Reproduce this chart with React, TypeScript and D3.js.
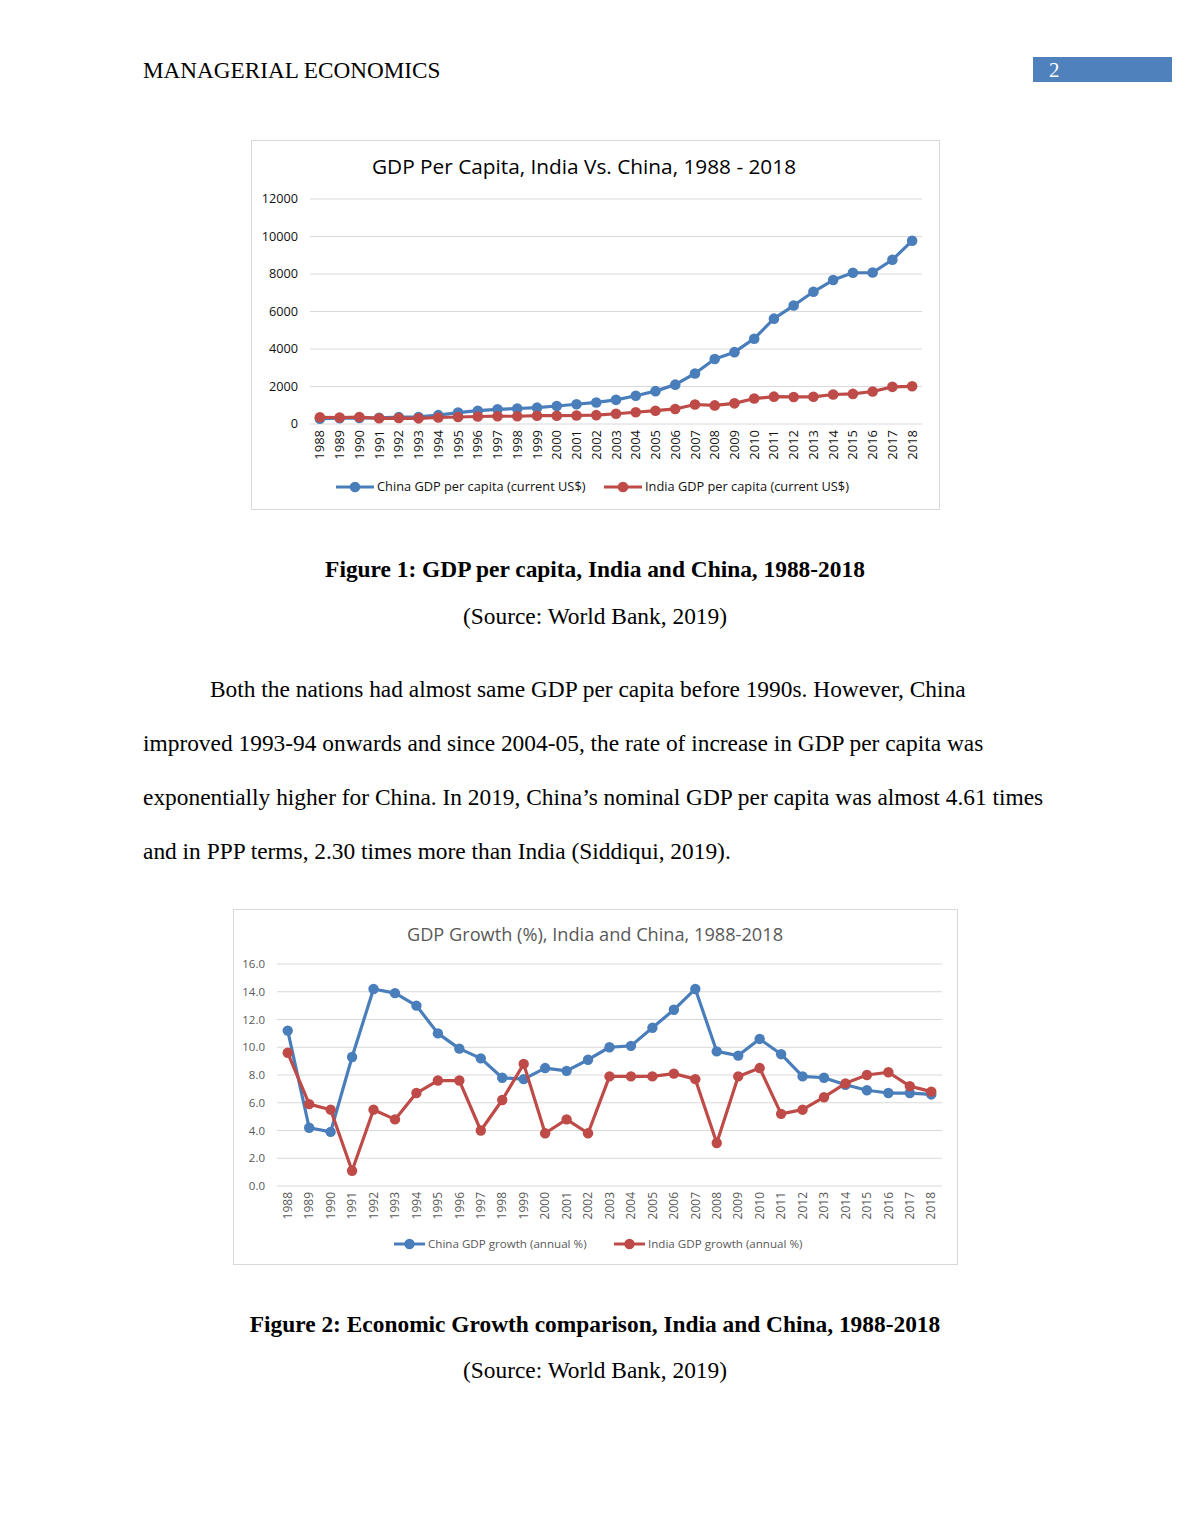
import React from 'react'
import * as d3 from 'd3'

const years = d3.range(1988, 2019).map(String)

const chinaGdpPc = [283, 310, 317, 333, 366, 377, 473, 610, 709, 781, 828, 873, 959, 1053, 1149, 1289, 1509, 1753, 2099, 2694, 3468, 3832, 4550, 5618, 6317, 7051, 7679, 8067, 8078, 8759, 9771]
const indiaGdpPc = [358, 348, 368, 303, 317, 301, 346, 374, 400, 415, 413, 442, 443, 452, 471, 547, 628, 710, 802, 1040, 993, 1101, 1358, 1458, 1444, 1450, 1574, 1606, 1733, 1981, 2010]

const chinaGrowth = [11.2, 4.2, 3.9, 9.3, 14.2, 13.9, 13.0, 11.0, 9.9, 9.2, 7.8, 7.7, 8.5, 8.3, 9.1, 10.0, 10.1, 11.4, 12.7, 14.2, 9.7, 9.4, 10.6, 9.5, 7.9, 7.8, 7.3, 6.9, 6.7, 6.7, 6.6]
const indiaGrowth = [9.6, 5.9, 5.5, 1.1, 5.5, 4.8, 6.7, 7.6, 7.6, 4.0, 6.2, 8.8, 3.8, 4.8, 3.8, 7.9, 7.9, 7.9, 8.1, 7.7, 3.1, 7.9, 8.5, 5.2, 5.5, 6.4, 7.4, 8.0, 8.2, 7.2, 6.8]

const pcTicks = [0, 2000, 4000, 6000, 8000, 10000, 12000]
const growthTicks = [0, 2, 4, 6, 8, 10, 12, 14, 16]

const BLUE = '#4a7ebb'
const RED = '#be4b48'
const SANS = '"Open Sans", "Noto Sans", sans-serif'
const SERIF = '"Liberation Serif", "Times New Roman", serif'

interface ChartProps {
  frame: [number, number, number, number]
  title: string
  titleX: number
  titleY: number
  titleSize: number
  titleColor: string
  plot: { left: number; right: number; top: number; bottom: number }
  yMax: number
  ticks: number[]
  fmt: (v: number) => string
  tickColor: string
  tickSize: number
  xTickSize: number
  series: { name: string; values: number[]; color: string; legendX: number }[]
  legendY: number
  legendSize: number
  legendLen: number
  r: number
}

const Chart: React.FC<ChartProps> = (p) => {
  const x = d3.scaleBand<string>().domain(years).range([p.plot.left, p.plot.right])
  const y = d3.scaleLinear().domain([0, p.yMax]).range([p.plot.bottom, p.plot.top])
  const cx = (yr: string) => (x(yr) || 0) + x.bandwidth() / 2
  const line = d3
    .line<number>()
    .x((_, i) => cx(years[i]))
    .y((d) => y(d))
  const [fx, fy, fw, fh] = p.frame
  return (
    <g>
      <rect x={fx + 0.5} y={fy + 0.5} width={fw} height={fh} fill="#fff" stroke="#d9d9d9" />
      <text x={p.titleX} y={p.titleY} textAnchor="middle" fontFamily={SANS} fontSize={p.titleSize} fill={p.titleColor}>
        {p.title}
      </text>
      {p.ticks.map((t) => (
        <g key={t}>
          <line x1={p.plot.left} x2={p.plot.right} y1={y(t)} y2={y(t)} stroke="#d9d9d9" strokeWidth={1} />
          <text x={p.plot.left - 12} y={y(t)} dy="0.35em" textAnchor="end" fontFamily={SANS} fontSize={p.tickSize} fill={p.tickColor}>
            {p.fmt(t)}
          </text>
        </g>
      ))}
      {years.map((yr) => (
        <text
          key={yr}
          transform={`translate(${cx(yr)},${p.plot.bottom + 6}) rotate(-90)`}
          dy="0.35em"
          textAnchor="end"
          fontFamily={SANS}
          fontSize={p.xTickSize}
          fill={p.tickColor}
        >
          {yr}
        </text>
      ))}
      {p.series.map((s) => (
        <g key={s.name}>
          <path d={line(s.values) || ''} fill="none" stroke={s.color} strokeWidth={3.2} strokeLinejoin="round" />
          {s.values.map((v, i) => (
            <circle key={i} cx={cx(years[i])} cy={y(v)} r={p.r} fill={s.color} />
          ))}
        </g>
      ))}
      {p.series.map((s) => (
        <g key={'lg' + s.name}>
          <line x1={s.legendX} x2={s.legendX + p.legendLen} y1={p.legendY} y2={p.legendY} stroke={s.color} strokeWidth={3} />
          <circle cx={s.legendX + p.legendLen / 2} cy={p.legendY} r={p.r} fill={s.color} />
          <text x={s.legendX + p.legendLen + 3} y={p.legendY} dy="0.35em" fontFamily={SANS} fontSize={p.legendSize} fill={p.tickColor}>
            {s.name}
          </text>
        </g>
      ))}
    </g>
  )
}

export default function App() {
  const body = { fontFamily: SERIF, fontSize: 23.4, fill: '#000' }
  return (
    <svg width={1190} height={1540} style={{ position: 'absolute', left: 0, top: 0, background: '#fff' }}>
      <rect width={1190} height={1540} fill="#fff" />
      <text x={143} y={78} {...body} fontSize={23.2}>MANAGERIAL ECONOMICS</text>
      <rect x={1033} y={57} width={139} height={25} fill="#4f81bd" />
      <text x={1049} y={77} {...body} fontSize={21} fill="#fff">2</text>

      <Chart
        frame={[251, 140, 688, 369]}
        title="GDP Per Capita, India Vs. China, 1988 - 2018"
        titleX={584}
        titleY={174}
        titleSize={20.8}
        titleColor="#000"
        plot={{ left: 310, right: 922, top: 199, bottom: 424 }}
        yMax={12000}
        ticks={pcTicks}
        fmt={(v) => String(v)}
        tickColor="#111"
        tickSize={12.7}
        xTickSize={13}
        series={[
          { name: 'China GDP per capita (current US$)', values: chinaGdpPc, color: BLUE, legendX: 336 },
          { name: 'India GDP per capita (current US$)', values: indiaGdpPc, color: RED, legendX: 604 },
        ]}
        legendY={487}
        legendSize={12.8}
        legendLen={38}
        r={5.3}
      />

      <text x={595} y={577} textAnchor="middle" {...body} fontWeight="bold">Figure 1: GDP per capita, India and China, 1988-2018</text>
      <text x={595} y={624} textAnchor="middle" {...body}>(Source: World Bank, 2019)</text>

      <text x={210} y={697} {...body}>Both the nations had almost same GDP per capita before 1990s. However, China</text>
      <text x={143} y={751} {...body}>improved 1993-94 onwards and since 2004-05, the rate of increase in GDP per capita was</text>
      <text x={143} y={805} {...body}>exponentially higher for China. In 2019, China’s nominal GDP per capita was almost 4.61 times</text>
      <text x={143} y={859} {...body}>and in PPP terms, 2.30 times more than India (Siddiqui, 2019).</text>

      <Chart
        frame={[233, 909, 724, 355]}
        title="GDP Growth (%), India and China, 1988-2018"
        titleX={595}
        titleY={941}
        titleSize={18.2}
        titleColor="#595959"
        plot={{ left: 277, right: 942, top: 964, bottom: 1186 }}
        yMax={16}
        ticks={growthTicks}
        fmt={(v) => v.toFixed(1)}
        tickColor="#595959"
        tickSize={11.5}
        xTickSize={12}
        series={[
          { name: 'China GDP growth (annual %)', values: chinaGrowth, color: BLUE, legendX: 394 },
          { name: 'India GDP growth (annual %)', values: indiaGrowth, color: RED, legendX: 614 },
        ]}
        legendY={1244}
        legendSize={11.6}
        legendLen={31}
        r={5.2}
      />

      <text x={595} y={1332} textAnchor="middle" {...body} fontWeight="bold">Figure 2: Economic Growth comparison, India and China, 1988-2018</text>
      <text x={595} y={1378} textAnchor="middle" {...body}>(Source: World Bank, 2019)</text>
    </svg>
  )
}
